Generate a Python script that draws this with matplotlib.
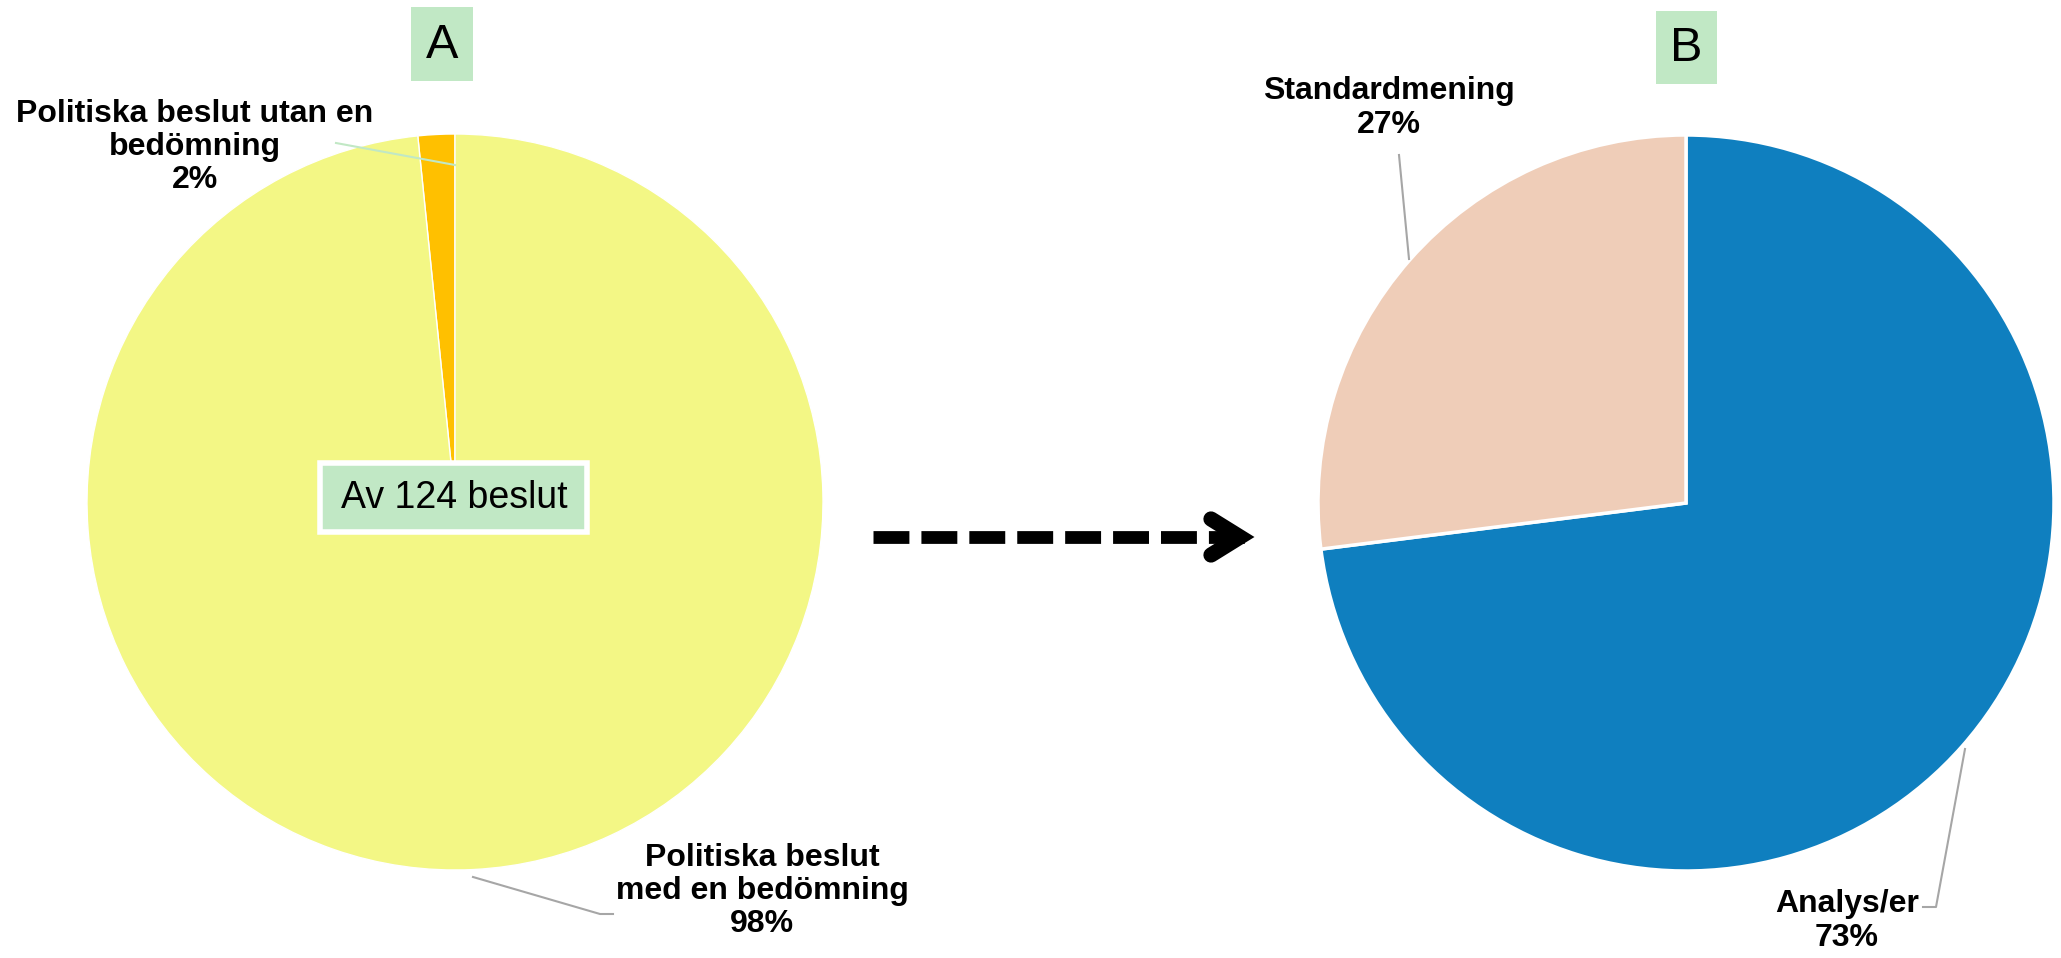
import matplotlib
matplotlib.use("Agg")
import matplotlib.pyplot as plt
from matplotlib.patches import Rectangle

plt.rcParams['font.family'] = ['Liberation Sans', 'DejaVu Sans']

# ---- data ----
labels_a = ["Politiska beslut utan en\nbedömning", "Politiska beslut\nmed en bedömning"]
counts_a = [2, 122]
colors_a = ["#FFC000", "#F3F785"]
total_a_text = "Av 124 beslut"

labels_b = ["Analys/er", "Standardmening"]
values_b = [73, 27]
colors_b = ["#0F7FBF", "#EFCDB8"]

panel_labels = ["A", "B"]

W, H = 2061, 958
fig = plt.figure(figsize=(W / 100, H / 100), dpi=100)
ax = fig.add_axes([0, 0, 1, 1])
ax.set_xlim(0, W)
ax.set_ylim(0, H)
ax.set_aspect('equal')
ax.axis('off')


def Y(y):
    return H - y


# ---- pie A ----
ca = (455, Y(502))
r = 368
ax.pie(counts_a, colors=colors_a, startangle=90, counterclock=True,
       center=ca, radius=r, frame=True,
       wedgeprops=dict(edgecolor='white', linewidth=1))

# ---- pie B ----
cb = (1686, Y(503))
ax.pie(values_b, colors=colors_b, startangle=90, counterclock=False,
       center=cb, radius=r, frame=True,
       wedgeprops=dict(edgecolor='white', linewidth=2.5))

ax.set_xlim(0, W)
ax.set_ylim(0, H)
ax.axis('off')

pct_a = [round(100 * c / sum(counts_a)) for c in counts_a]
pct_b = [round(100 * v / sum(values_b)) for v in values_b]

lab_kw = dict(fontsize=23, fontweight='bold', ha='center', va='center',
              linespacing=1.15, color='black')

# labels A
ax.text(195, Y(147), f"{labels_a[0]}\n{pct_a[0]}%", **lab_kw)
ax.plot([336, 455], [Y(143), Y(165)], color='#C1E8C5', lw=1.5)
ax.text(762, Y(891), f"{labels_a[1]}\n{pct_a[1]}%", **lab_kw)
ax.plot([473, 600, 613], [Y(877), Y(914), Y(914)], color='#A6A6A6', lw=1.5)

# labels B
ax.text(1389, Y(108), f"{labels_b[1]}\n{pct_b[1]}%", **lab_kw)
ax.plot([1399, 1409], [Y(155), Y(259)], color='#A6A6A6', lw=1.5)
ax.text(1847, Y(921), f"{labels_b[0]}\n{pct_b[0]}%", **lab_kw)
ax.plot([1965, 1936, 1923], [Y(749), Y(907), Y(907)], color='#A6A6A6', lw=1.5)

# center box
ax.add_patch(Rectangle((320, Y(532)), 267, 69, facecolor='#C1E8C5',
                       edgecolor='white', linewidth=4, zorder=5))
ax.text(454, Y(498), total_a_text, fontsize=27, ha='center', va='center', zorder=6)

# panel boxes
ax.add_patch(Rectangle((411, Y(81)), 62, 74, facecolor='#C1E8C5', edgecolor='none'))
ax.text(442, Y(45), panel_labels[0], fontsize=35, ha='center', va='center')
ax.add_patch(Rectangle((1656, Y(84)), 61, 73, facecolor='#C1E8C5', edgecolor='none'))
ax.text(1686, Y(48), panel_labels[1], fontsize=35, ha='center', va='center')

# dashed arrow
ax.plot([873, 1245], [Y(537), Y(537)], color='black', lw=9.2,
        linestyle=(0, (2.81, 0.94)), solid_capstyle='butt', dash_capstyle='butt')
ax.plot([1211, 1240, 1211], [Y(519), Y(537), Y(555)], color='black', lw=11,
        solid_capstyle='round', solid_joinstyle='miter')

fig.savefig("out.png", dpi=100)
